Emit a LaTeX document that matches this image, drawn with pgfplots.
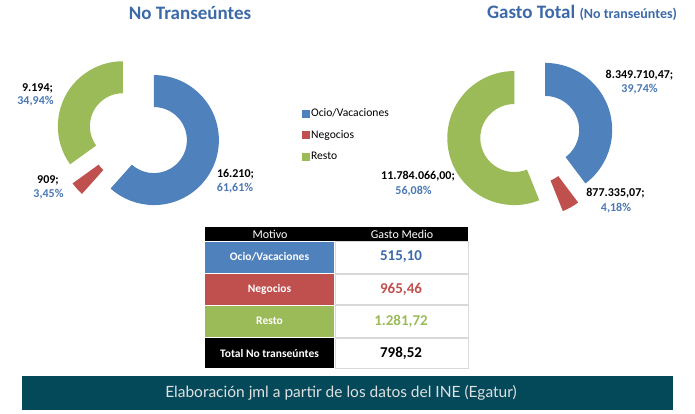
\documentclass[border=0pt]{standalone}
\usepackage{fontspec}
\setmainfont{Carlito}
\newfontfamily\footfont{Lato}
\usepackage{pgfplots}
\pgfplotsset{compat=1.18}
\usepackage{pgfplotstable}
\usetikzlibrary{calc}

\definecolor{cOcio}{HTML}{4F81BD}
\definecolor{cNeg}{HTML}{C0504D}
\definecolor{cResto}{HTML}{9BBB59}
\definecolor{tBlue}{HTML}{3C6AA8}
\definecolor{pBlue}{HTML}{4A78B4}
\definecolor{foot}{HTML}{03495A}
\definecolor{cellline}{HTML}{D9D9D9}

% share of each motive (%)
\pgfplotstableread{
motivo   pct
Ocio     61.61
Negocios 3.45
Resto    34.94
}\tblViajeros

\pgfplotstableread{
motivo   pct
Ocio     39.74
Negocios 4.18
Resto    56.08
}\tblGasto

% donut: table, centre, outer radius, inner radius, explosion
\newcommand\donut[5]{%
  \gdef\acc{0}%
  \foreach \i/\col in {0/cOcio,1/cNeg,2/cResto}{%
    \pgfplotstablegetelem{\i}{pct}\of#1%
    \let\pv\pgfplotsretval
    \pgfmathsetmacro\sa{90-3.6*\acc}%
    \pgfmathsetmacro\sb{90-3.6*(\acc+\pv)}%
    \pgfmathsetmacro\sm{(\sa+\sb)/2}%
    \fill[\col] ($(#2)+(\sm:#5)+(\sa:#3)$) arc[start angle=\sa, end angle=\sb, radius=#3]
      -- ($(#2)+(\sm:#5)+(\sb:#4)$) arc[start angle=\sb, end angle=\sa, radius=#4] -- cycle;
    \pgfmathsetmacro\nacc{\acc+\pv}\global\let\acc\nacc
  }%
}

\begin{document}
\begin{tikzpicture}
\begin{axis}[
  width=695pt, height=413pt, scale only axis,
  xmin=0, xmax=695, ymin=0, ymax=413, y dir=reverse,
  hide axis,
  legend style={at={(axis cs:302,108.5)}, anchor=north west, draw=none, fill=none,
    font=\fontsize{11.6}{13}\selectfont, row sep=12pt, inner sep=0pt,
    nodes={inner xsep=1.5pt, inner ysep=0pt}},
  legend cell align=left,
  legend image code/.code={\fill[#1] (0pt,-3.5pt) rectangle (7pt,3.5pt);},
]
\addlegendimage{cOcio}\addlegendentry{Ocio/Vacaciones}
\addlegendimage{cNeg}\addlegendentry{Negocios}
\addlegendimage{cResto}\addlegendentry{Resto}

% whole canvas
\path (axis cs:0,0) rectangle (axis cs:695,413);

\coordinate (cL) at (axis cs:138,134);
\coordinate (cR) at (axis cs:530,135);

% titles
\node[font=\fontsize{19}{22}\selectfont\bfseries, text=tBlue] at (axis cs:190,13) {No Transeúntes};
\node[font=\fontsize{19}{22}\selectfont\bfseries, text=tBlue] at (axis cs:582,13)
  {Gasto Total {\fontsize{14}{16}\selectfont (No transeúntes)}};

% slice labels
\begin{scope}[every node/.style={font=\fontsize{12}{14}\selectfont\bfseries}]
\node at (axis cs:37.5,88) {9.194;};
\node[text=pBlue] at (axis cs:35.5,101) {34,94\%};
\node at (axis cs:48,180) {909;};
\node[text=pBlue] at (axis cs:48.5,194) {3,45\%};
\node at (axis cs:235.5,174) {16.210;};
\node[text=pBlue] at (axis cs:235,188) {61,61\%};
\node at (axis cs:639.5,75) {8.349.710,47;};
\node[text=pBlue] at (axis cs:639.5,89) {39,74\%};
\node at (axis cs:418,176) {11.784.066,00;};
\node[text=pBlue] at (axis cs:413.5,191) {56,08\%};
\node at (axis cs:615.5,193) {877.335,07;};
\node[text=pBlue] at (axis cs:616,208) {4,18\%};
\end{scope}

% table
\fill[black] (axis cs:205,227) rectangle (axis cs:468,241);
\fill[cOcio] (axis cs:205,241.5) rectangle (axis cs:334,273);
\fill[cNeg] (axis cs:205,274) rectangle (axis cs:334,304.5);
\fill[cResto] (axis cs:205,305.5) rectangle (axis cs:334,337);
\fill[black] (axis cs:205,338) rectangle (axis cs:334,368);
\draw[cellline, line width=0.8pt] (axis cs:335,241.5) rectangle (axis cs:468,273);
\draw[cellline, line width=0.8pt] (axis cs:335,274) rectangle (axis cs:468,304.5);
\draw[cellline, line width=0.8pt] (axis cs:335,305.5) rectangle (axis cs:468,337);
\draw[cellline, line width=0.8pt] (axis cs:335,338) rectangle (axis cs:468,368);
\node[text=white, font=\fontsize{12}{13}\selectfont] at (axis cs:270,234) {Motivo};
\node[text=white, font=\fontsize{12}{13}\selectfont] at (axis cs:402,234) {Gasto Medio};
\begin{scope}[every node/.style={text=white, font=\fontsize{11.5}{13}\selectfont\bfseries}]
\node at (axis cs:269.5,257) {Ocio/Vacaciones};
\node at (axis cs:269.5,289) {Negocios};
\node at (axis cs:269.5,321) {Resto};
\node at (axis cs:269.5,353) {Total No transeúntes};
\end{scope}
\begin{scope}[every node/.style={font=\fontsize{15}{17}\selectfont\bfseries}]
\node[text=tBlue] at (axis cs:401,257) {515,10};
\node[text=cNeg] at (axis cs:401,289) {965,46};
\node[text=cResto] at (axis cs:401,321) {1.281,72};
\node[text=black] at (axis cs:401,353) {798,52};
\end{scope}

% footer
\fill[foot] (axis cs:22,376) rectangle (axis cs:673,410);
\node[text=black!12, font=\footfont\fontsize{15.5}{17}\selectfont] at (axis cs:341,393)
  {Elaboración jml a partir de los datos del INE (Egatur)};
\end{axis}
\donut{\tblViajeros}{cL}{65pt}{33pt}{17pt}
\donut{\tblGasto}{cR}{67pt}{34pt}{16pt}
\end{tikzpicture}
\end{document}
